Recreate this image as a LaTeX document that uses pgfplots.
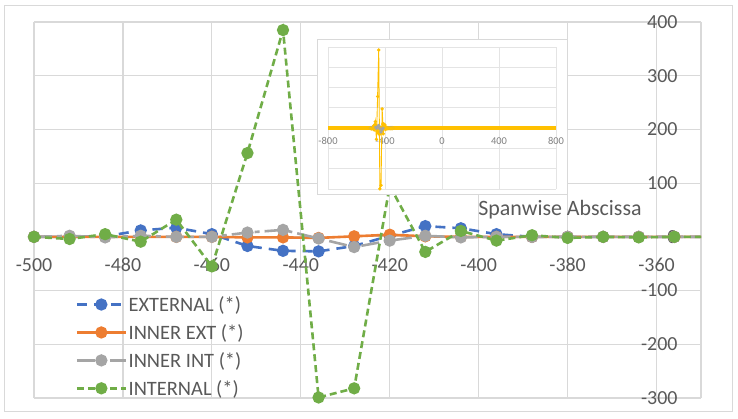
\documentclass[border=0pt]{standalone}
\usepackage{pgfplots}
\pgfplotsset{compat=1.18}
\usepackage{pgfplotstable}
\usepackage{fontspec}
\setmainfont{Carlito}

\definecolor{exblue}{HTML}{4472C4}
\definecolor{inorange}{HTML}{ED7D31}
\definecolor{ingray}{HTML}{A5A5A5}
\definecolor{ingreen}{HTML}{70AD47}
\definecolor{gridgray}{HTML}{D9D9D9}
\definecolor{insetgrid}{HTML}{E4E4E4}
\definecolor{txtgray}{HTML}{595959}
\definecolor{insetyellow}{HTML}{FFC000}

% spanwise abscissa vs. the four series
\pgfplotstableread{
x    ext inext inint internal
-500   0    0    0     0
-492   0    0    2    -4
-484   1    0   -1     5
-476  12    0    2    -9
-468  17    0    0    32
-460   5    0    0   -55
-452 -17   -1    8   156
-444 -26   -1   13   385
-436 -27   -2   -3  -299
-428 -17    1  -19  -282
-420   2    4   -7    95
-412  20    1    2   -28
-404  16    0   -1    11
-396   5    0    0    -7
-388   0    0    0     3
-380   0    0    0    -2
-372   0    0    0     0
-364   0    0    0    -1
-356   0    0    0     0
-348   0    0    0     0
}\spanwise

\begin{document}
\begin{tikzpicture}
\useasboundingbox (0bp,0bp) rectangle (738bp,419bp);
\draw[gridgray, line width=1bp] (4bp,7bp) rectangle (732bp,413bp);

\begin{axis}[
    at={(34bp,21bp)}, anchor=south west,
    scale only axis, width=667bp, height=376bp,
    xmin=-500, xmax=-350, ymin=-300, ymax=400,
    axis x line*=middle, axis y line*=right,
    axis line style={draw=gridgray, line width=1.2bp},
    hide obscured x ticks=false, hide obscured y ticks=false,
    xtick={-500,-480,-460,-440,-420,-400,-380,-360},
    xticklabels={-500,-480,-460,-440,-420,-400,-380,-360},
    ytick={-300,-200,-100,0,100,200,300,400},
    yticklabels={-300,-200,-100,0,100,200,300,400},
    grid=major,
    major grid style={draw=gridgray, line width=1.2bp},
    major tick length=0pt,
    tick label style={font=\fontsize{20}{24}\selectfont, text=txtgray},
    xticklabel style={anchor=north, yshift=-18bp},
    yticklabel style={anchor=east, xshift=-20bp},
    clip mode=individual,
    legend style={at={(axis description cs:0.062,0.275)}, anchor=north west,
        draw=none, fill=none, inner sep=0pt, row sep=8.5bp,
        font=\fontsize{20.5}{24}\selectfont, text=txtgray,
        nodes={inner sep=1.5bp}},
    legend cell align=left,
    legend image code/.code={
        \draw[mark indices={2}] plot coordinates {(0bp,0bp)(24.5bp,0bp)(49bp,0bp)};},
]
\addplot[exblue, line width=2.6bp, dash pattern=on 10bp off 7bp,
    mark=*, mark size=4.8bp, mark options={solid, fill=exblue},
    mark indices={1,...,19}] table[x=x, y=ext] {\spanwise};
\addlegendentry{EXTERNAL (*)}
\addplot[inorange, line width=2.6bp,
    mark=*, mark size=4.8bp, mark options={solid, fill=inorange},
    mark indices={1,...,19}] table[x=x, y=inext] {\spanwise};
\addlegendentry{INNER EXT (*)}
\addplot[ingray, line width=2.6bp, dash pattern=on 18bp off 5bp on 5bp off 5bp,
    mark=*, mark size=4.8bp, mark options={solid, fill=ingray},
    mark indices={1,...,19}] table[x=x, y=inint] {\spanwise};
\addlegendentry{INNER INT (*)}
\addplot[ingreen, line width=2.6bp, dash pattern=on 7bp off 4bp,
    mark=*, mark size=4.8bp, mark options={solid, fill=ingreen},
    mark indices={1,...,19}] table[x=x, y=internal] {\spanwise};
\addlegendentry{INTERNAL (*)}
\end{axis}

\node[font=\fontsize{22}{26}\selectfont, text=txtgray] at (560bp,209bp) {Spanwise Abscissa};

% inset overview chart
\filldraw[fill=white, draw=gridgray, line width=1bp] (317bp,224bp) rectangle (567bp,379bp);
\begin{axis}[
    at={(328bp,230bp)}, anchor=south west,
    scale only axis, width=228bp, height=142bp,
    xmin=-800, xmax=800, ymin=-300, ymax=400,
    axis x line*=middle, axis y line*=left,
    axis line style={draw=none},
    hide obscured x ticks=false, hide obscured y ticks=false,
    xtick={-800,-400,0,400,800},
    xticklabels={-800,-400,0,400,800},
    ytick={-300,-200,-100,0,100,200,300,400},
    yticklabels={},
    grid=major,
    major grid style={draw=insetgrid, line width=0.8bp},
    major tick length=0pt,
    tick label style={font=\fontsize{10.5}{12}\selectfont, text=gray},
    xticklabel style={anchor=north, yshift=-6bp},
]
\addplot[insetyellow, line width=4.5bp] coordinates {(-800,0) (800,0)};
\addplot[insetyellow, line width=1.5bp, mark=*, mark size=1.2bp] table[x=x, y=ext] {\spanwise};
\addplot[ingray, line width=1bp, mark=*, mark size=1.2bp] table[x=x, y=inint] {\spanwise};
\addplot[insetyellow, line width=0.9bp, mark=*, mark size=1.2bp] table[x=x, y=internal] {\spanwise};
\end{axis}
\end{tikzpicture}
\end{document}
